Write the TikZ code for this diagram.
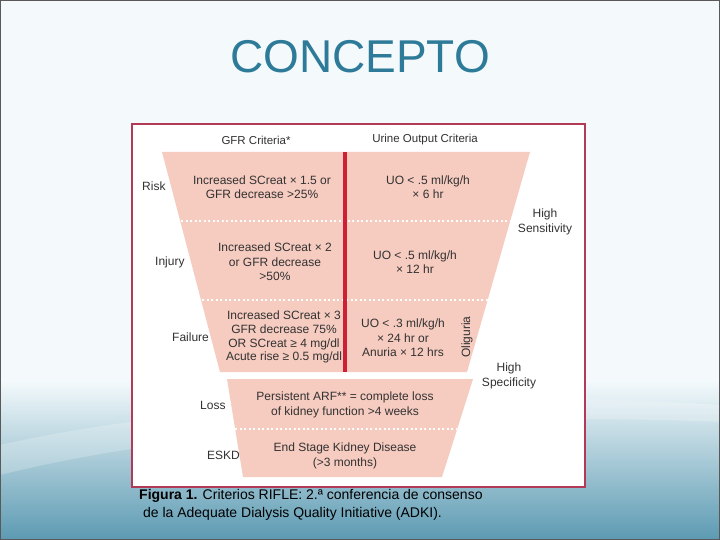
\documentclass[tikz,border=0pt]{standalone}
\usepackage{fontspec}
\setmainfont{Liberation Sans}
\definecolor{slidebg}{RGB}{244,250,252}
\definecolor{slideblue}{RGB}{92,154,178}
\definecolor{titleblue}{RGB}{46,122,153}
\definecolor{funnel}{RGB}{246,203,192}
\definecolor{boxred}{RGB}{178,58,86}
\definecolor{midred}{RGB}{205,32,52}
\definecolor{figtext}{RGB}{50,50,50}
\begin{document}
\begin{tikzpicture}[x=1pt,y=-1pt,
  lbl/.style={font=\fontsize{12}{14.5}\selectfont, text=figtext, align=center, inner sep=0pt},
  hdr/.style={font=\fontsize{11.5}{14}\selectfont, text=figtext, align=center, inner sep=0pt},
  sep/.style={white, line width=2pt, dash pattern=on 2pt off 2.5pt}]
\useasboundingbox (0,0) rectangle (720,540);
% slide background
\fill[slidebg] (0,0) rectangle (720,540);
\shade[top color=slidebg, bottom color=slideblue] (0,380) rectangle (720,540);
\fill[white, opacity=0.22] (0,445) .. controls (200,400) and (480,390) .. (720,405)
  -- (720,422) .. controls (480,412) and (200,425) .. (0,475) -- cycle;
\draw[gray!70!black, line width=0.8pt] (0.4,0.4) rectangle (719.6,539.6);
% title
\node[font=\fontsize{46}{50}\selectfont, text=titleblue, inner sep=0pt] (title) at (360,57) {CONCEPTO};
% figure box
\fill[white] (132,124) rectangle (585,487);
\draw[boxred, line width=1.6pt] (132,124) rectangle (585,487);
% headers
\node[hdr] (hgfr) at (256,140) {GFR Criteria*};
\node[hdr] (huo) at (425,140) {Urine Output Criteria};
% upper funnel
\fill[funnel] (162,152) -- (530,152) -- (467,372) -- (220,372) -- cycle;
\draw[sep] (181,221) -- (510,221);
\draw[sep] (202,300) -- (488,300);
\draw[midred, line width=3.5pt] (345,152) -- (345,372);
% lower funnel
\fill[funnel] (227,379) -- (473,379) -- (442,477) -- (243,477) -- cycle;
\draw[sep] (235,429) -- (456,429);
% stage labels
\node[lbl, anchor=west] (risk) at (142,186) {Risk};
\node[lbl, anchor=west] (injury) at (155,262) {Injury};
\node[lbl, anchor=west] (failure) at (172,337) {Failure};
\node[lbl, anchor=west] (loss) at (200,405) {Loss};
\node[lbl, anchor=west] (eskd) at (207,455) {ESKD};
% GFR criteria
\node[lbl] (gfr1) at (262,187) {Increased SCreat × 1.5 or\\GFR decrease >25\%};
\node[lbl] (gfr2) at (275,262) {Increased SCreat × 2\\or GFR decrease\\>50\%};
\node[lbl, font=\fontsize{12}{13.8}\selectfont] (gfr3) at (284,337) {Increased SCreat × 3\\GFR decrease 75\%\\OR SCreat ≥ 4 mg/dl\\Acute rise ≥ 0.5 mg/dl};
% UO criteria
\node[lbl] (uo1) at (428,187) {UO < .5 ml/kg/h\\× 6 hr};
\node[lbl] (uo2) at (415,262) {UO < .5 ml/kg/h\\× 12 hr};
\node[lbl] (uo3) at (403,338) {UO < .3 ml/kg/h\\× 24 hr or\\Anuria × 12 hrs};
\node[lbl, rotate=90] (olig) at (467,337) {Oliguria};
% lower funnel text
\node[lbl] (lossT) at (345,405) {Persistent ARF** = complete loss\\of kidney function >4 weeks};
\node[lbl] (eskdT) at (345,456) {End Stage Kidney Disease\\(>3 months)};
% sensitivity / specificity
\node[lbl] (sens) at (545,222) {High\\Sensitivity};
\node[lbl] (spec) at (509,376) {High\\Specificity};
% caption
\node[font=\fontsize{14}{18}\selectfont, text=black, align=left, anchor=north west, inner sep=0pt] (cap) at (139,489)
  {\textbf{Figura 1.} Criterios RIFLE: 2.ª conferencia de consenso\\ \ de la Adequate Dialysis Quality Initiative (ADKI).};
\end{tikzpicture}
\end{document}
